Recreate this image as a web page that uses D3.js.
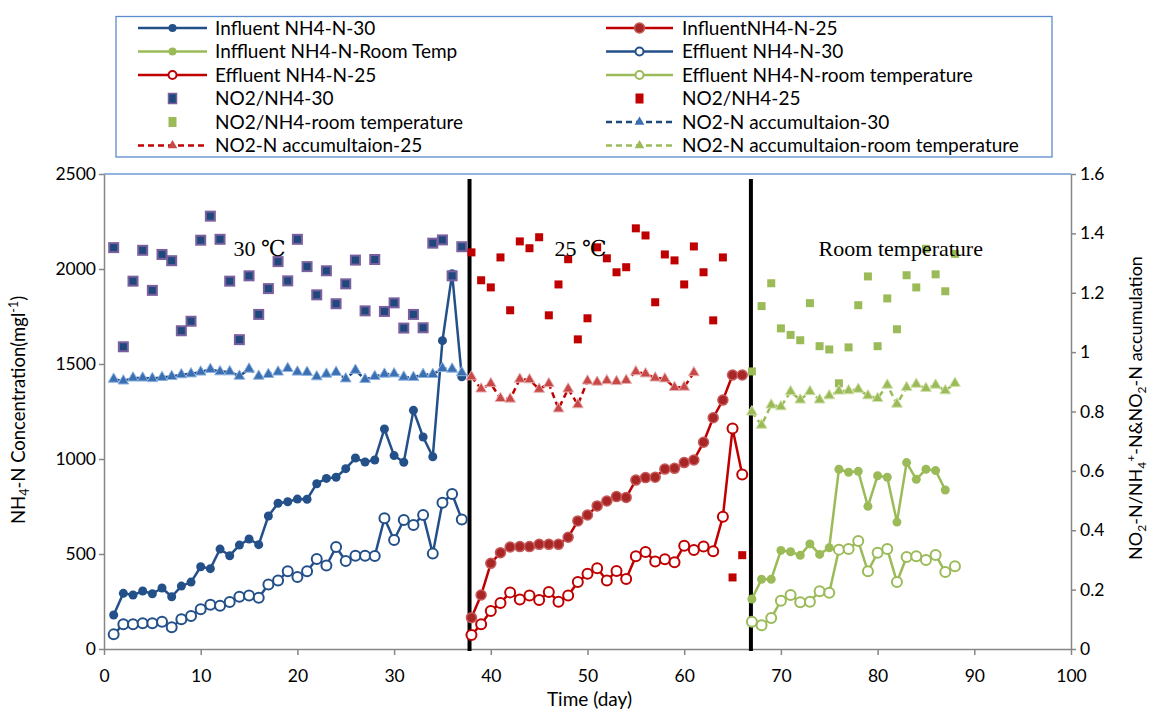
<!DOCTYPE html>
<html>
<head>
<meta charset="utf-8">
<script src="https://cdn.jsdelivr.net/npm/d3@7"></script>
<style>
  body { margin: 0; background: #fff; }
  svg { display: block; font-family: Lato, "Open Sans", sans-serif; }
</style>
</head>
<body>
<svg id="chart" width="1151" height="709"></svg>
<script>
// ---- Data: day numbers per operating phase ----
const days30 = [1,2,3,4,5,6,7,8,9,10,11,12,13,14,15,16,17,18,19,20,21,22,23,24,25,26,27,28,29,30,31,32,33,34,35,36,37];
const days25 = [38,39,40,41,42,43,44,45,46,47,48,49,50,51,52,53,54,55,56,57,58,59,60,61,62,63,64,65,66];
const days25Acc = [38,39,40,41,42,43,44,45,46,47,48,49,50,51,52,53,54,55,56,57,58,59,60,61];
const daysRT = [67,68,69,70,71,72,73,74,75,76,77,78,79,80,81,82,83,84,85,86,87,88];
const daysRTInf = [67,68,69,70,71,72,73,74,75,76,77,78,79,80,81,82,83,84,85,86,87];

// NH4-N concentrations (mg/l), left axis
const influent30 = [179,293,284,305,291,321,275,331,352,433,423,526,491,547,579,549,700,767,775,789,788,870,898,904,949,1005,984,995,1158,1018,983,1256,1116,1012,1623,1975,1433];
const effluent30 = [77,130,130,135,135,144,114,156,174,209,233,228,247,275,281,270,339,360,409,379,409,474,439,537,463,491,491,489,688,574,679,653,705,502,770,816,682];
const influent25 = [165,284,451,507,537,539,539,551,551,551,588,674,705,753,779,802,798,889,902,904,947,951,981,995,1088,1217,1310,1442,1442];
const effluent25 = [74,130,200,242,298,260,282,258,300,249,282,353,396,425,360,411,368,488,511,461,472,456,544,521,539,514,696,1160,919];
const influentRT = [263,367,367,519,512,493,553,498,533,946,930,935,751,912,904,668,981,893,946,939,837];
const effluentRT = [144,125,163,254,284,246,249,304,296,523,526,568,409,507,526,353,484,488,468,495,405,435];

// NO2-N/NH4-N ratios and NO2-N accumulation, right axis
const ratio30 = [1.352,1.018,1.239,1.343,1.208,1.329,1.308,1.072,1.104,1.377,1.458,1.380,1.239,1.042,1.257,1.127,1.214,1.305,1.240,1.380,1.288,1.193,1.274,1.163,1.230,1.310,1.139,1.312,1.137,1.166,1.081,1.127,1.082,1.367,1.378,1.257,1.355];
const accum30 = [0.909,0.903,0.913,0.913,0.911,0.915,0.918,0.924,0.927,0.933,0.942,0.934,0.934,0.919,0.943,0.919,0.925,0.933,0.945,0.933,0.932,0.917,0.926,0.932,0.910,0.939,0.908,0.918,0.926,0.927,0.916,0.915,0.925,0.925,0.945,0.943,0.931];
const ratio25 = [1.336,1.242,1.218,1.319,1.141,1.373,1.350,1.387,1.124,1.228,1.313,1.043,1.114,1.353,1.316,1.269,1.286,1.417,1.393,1.168,1.329,1.309,1.228,1.356,1.269,1.107,1.319,0.241,0.316];
const accum25 = [0.917,0.876,0.894,0.844,0.842,0.909,0.907,0.875,0.894,0.809,0.876,0.823,0.903,0.899,0.904,0.901,0.905,0.934,0.927,0.913,0.910,0.881,0.882,0.931];
const ratioRT = [0.935,1.155,1.232,1.080,1.058,1.040,1.165,1.020,1.009,0.895,1.016,1.158,1.255,1.020,1.181,1.077,1.259,1.218,1.348,1.262,1.205,1.331];
const accumRT = [0.799,0.754,0.822,0.816,0.867,0.839,0.867,0.839,0.853,0.869,0.870,0.875,0.853,0.844,0.889,0.825,0.881,0.892,0.878,0.889,0.870,0.895];

// Phase boundaries (day) and phase names
const phaseBreaks = [37.8, 66.9];
const phaseNames = ["30 \u2103", "25 \u2103", "Room temperature"];

// Axis ticks
const xTicks = [0,10,20,30,40,50,60,70,80,90,100];
const yLeftTicks = [0,500,1000,1500,2000,2500];
const yRightTicks = [0,0.2,0.4,0.6,0.8,1,1.2,1.4,1.6];

// Legend labels
const legendLabels = [
  "Influent NH4-N-30", "InfluentNH4-N-25",
  "Inffluent NH4-N-Room Temp", "Effluent NH4-N-30",
  "Effluent NH4-N-25", "Effluent NH4-N-room temperature",
  "NO2/NH4-30", "NO2/NH4-25",
  "NO2/NH4-room temperature", "NO2-N accumultaion-30",
  "NO2-N accumultaion-25", "NO2-N accumultaion-room temperature"
];

// ---- Palette ----
const BLUE = "#24508a", RED = "#c00000", GREEN = "#9bbb59";
const AXIS = "#868686";
const SANS = "Lato, 'Open Sans', sans-serif";
const SERIF = "'Liberation Serif', 'DejaVu Serif', serif";

const svg = d3.select("#chart");
const plot = { left: 104, right: 1071, top: 174, bottom: 649 };

const x = d3.scaleLinear().domain([0, 100]).range([plot.left, plot.right]);
const yL = d3.scaleLinear().domain([0, 2500]).range([plot.bottom, plot.top]);
const yR = d3.scaleLinear().domain([0, 1.6]).range([plot.bottom, plot.top]);

const zip = (days, vals) => days.map((d, i) => ({ day: d, v: vals[i] }));

// ---- Axes ----
const fontTick = 17.5;
const gL = svg.append("g").attr("transform", `translate(${plot.left},0)`)
  .call(d3.axisLeft(yL).tickValues(yLeftTicks).tickSize(5).tickSizeOuter(0).tickPadding(3).tickFormat(d3.format("d")));
const gR = svg.append("g").attr("transform", `translate(${plot.right},0)`)
  .call(d3.axisRight(yR).tickValues(yRightTicks).tickSize(5).tickSizeOuter(0).tickPadding(4).tickFormat(d => String(+d.toFixed(1))));
const gB = svg.append("g").attr("transform", `translate(0,${plot.bottom})`)
  .call(d3.axisBottom(x).tickValues(xTicks).tickSize(6).tickSizeOuter(0).tickPadding(15).tickFormat(d3.format("d")));
[gL, gR, gB].forEach(g => {
  g.attr("font-family", SANS).attr("font-size", fontTick);
  g.selectAll(".domain").attr("stroke", AXIS).attr("stroke-width", 1.5);
  g.selectAll(".tick line").attr("stroke", AXIS).attr("stroke-width", 1.5);
  g.selectAll(".tick text").attr("fill", "#000");
});
// top edge of the plot area
svg.append("line").attr("x1", plot.left).attr("x2", plot.right)
  .attr("y1", plot.top).attr("y2", plot.top).attr("stroke", "#6f9bd1").attr("stroke-width", 1.5);

// Axis titles
svg.append("text").attr("x", (plot.left + plot.right) / 2 + 2).attr("y", 706)
  .attr("text-anchor", "middle").attr("font-family", SANS).attr("font-size", 19).text("Time (day)");

const lt = svg.append("text").attr("transform", "translate(25,410) rotate(-90)")
  .attr("text-anchor", "middle").attr("font-family", SANS).attr("font-size", 18.5);
lt.append("tspan").text("NH");
lt.append("tspan").attr("font-size", 12.5).attr("dy", 4).text("4");
lt.append("tspan").attr("dy", -4).text("-N Concentration(mgl");
lt.append("tspan").attr("font-size", 12.5).attr("dy", -7).text("-1");
lt.append("tspan").attr("dy", 7).text(")");

const rt = svg.append("text").attr("transform", "translate(1142,408) rotate(-90)")
  .attr("text-anchor", "middle").attr("font-family", SANS).attr("font-size", 18);
rt.append("tspan").text("NO");
rt.append("tspan").attr("font-size", 12).attr("dy", 4).text("2");
rt.append("tspan").attr("dy", -4).text("-N/NH");
rt.append("tspan").attr("font-size", 12).attr("dy", 4).text("4");
rt.append("tspan").attr("font-size", 12).attr("dy", -11).text("+");
rt.append("tspan").attr("dy", 7).text("-N&NO");
rt.append("tspan").attr("font-size", 12).attr("dy", 4).text("2");
rt.append("tspan").attr("dy", -4).text("-N accumulation");

// ---- Phase dividers ----
svg.selectAll("line.phase").data(phaseBreaks).join("line")
  .attr("class", "phase")
  .attr("x1", d => x(d)).attr("x2", d => x(d))
  .attr("y1", plot.top + 5).attr("y2", plot.bottom + 2)
  .attr("stroke", "#000").attr("stroke-width", 4);

// ---- Marker helpers ----
const lineL = d3.line().x(d => x(d.day)).y(d => yL(d.v));
const lineR = d3.line().x(d => x(d.day)).y(d => yR(d.v));
const triPath = d3.symbol().type(d3.symbolTriangle).size(50)();

function drawSeriesLine(data, scaleLine, color, dashed) {
  svg.append("path").datum(data).attr("d", scaleLine)
    .attr("fill", "none").attr("stroke", color).attr("stroke-width", 2.5)
    .attr("stroke-dasharray", dashed ? "6,4" : null).attr("stroke-linejoin", "round");
}
function filledDots(data, yScale, fill, r, stroke) {
  svg.append("g").selectAll("circle").data(data).join("circle")
    .attr("cx", d => x(d.day)).attr("cy", d => yScale(d.v)).attr("r", r)
    .attr("fill", fill).attr("stroke", stroke || "none").attr("stroke-width", stroke ? 1.5 : 0);
}
function openDots(data, yScale, color) {
  svg.append("g").selectAll("circle").data(data).join("circle")
    .attr("cx", d => x(d.day)).attr("cy", d => yScale(d.v)).attr("r", 5)
    .attr("fill", "#fff").attr("stroke", color).attr("stroke-width", 2);
}
function squares(data, fill, size, stroke) {
  svg.append("g").selectAll("rect").data(data).join("rect")
    .attr("x", d => x(d.day) - size / 2).attr("y", d => yR(d.v) - size / 2)
    .attr("width", size).attr("height", size)
    .attr("fill", fill).attr("stroke", stroke || "none").attr("stroke-width", stroke ? 2 : 0);
}
function triangles(data, fill, stroke) {
  svg.append("g").selectAll("path").data(data).join("path")
    .attr("d", triPath)
    .attr("transform", d => `translate(${x(d.day)},${yR(d.v)})`)
    .attr("fill", fill).attr("stroke", stroke).attr("stroke-width", 1);
}

// ---- Series ----
// 30 °C phase
const inf30 = zip(days30, influent30), eff30 = zip(days30, effluent30);
drawSeriesLine(inf30, lineL, BLUE, false); filledDots(inf30, yL, BLUE, 4.5);
drawSeriesLine(eff30, lineL, BLUE, false); openDots(eff30, yL, BLUE);
// 25 °C phase
const inf25 = zip(days25, influent25), eff25 = zip(days25, effluent25);
drawSeriesLine(inf25, lineL, RED, false); filledDots(inf25, yL, "#a82626", 5, "#c65a5a");
drawSeriesLine(eff25, lineL, RED, false); openDots(eff25, yL, RED);
// room temperature phase
const infRT = zip(daysRTInf, influentRT), effRT = zip(daysRT, effluentRT);
drawSeriesLine(infRT, lineL, GREEN, false); filledDots(infRT, yL, GREEN, 4.5);
drawSeriesLine(effRT, lineL, GREEN, false); openDots(effRT, yL, GREEN);

// NO2-N/NH4-N ratio squares
squares(zip(days30, ratio30), "#1f497d", 9, "#7a609e");
squares(zip(days25, ratio25), RED, 8);
squares(zip(daysRT, ratioRT), GREEN, 8);

// NO2-N accumulation, dashed with triangles
const acc30 = zip(days30, accum30), acc25 = zip(days25Acc, accum25), accRT = zip(daysRT, accumRT);
drawSeriesLine(acc30, lineR, "#1f497d", true); triangles(acc30, "#3b6fb2", "#8db3e2");
drawSeriesLine(acc25, lineR, RED, true); triangles(acc25, "#c84848", "#e6b0b0");
drawSeriesLine(accRT, lineR, GREEN, true); triangles(accRT, "#9bbb59", "#cfe0a8");

// Phase names, on top of the markers (anchored at a day and a left-axis level)
const phaseAnchorDays = [13.4, 46.6, 73.9];
svg.selectAll("text.phase").data(phaseNames).join("text")
  .attr("class", "phase")
  .attr("x", (d, i) => x(phaseAnchorDays[i])).attr("y", yL(2070))
  .attr("font-family", SERIF)
  .attr("font-size", 22).text(d => d);

// ---- Legend ----
const lg = svg.append("g");
lg.append("rect").attr("x", 116).attr("y", 16.5).attr("width", 936).attr("height", 140.5)
  .attr("fill", "#fff").attr("stroke", "#5b8ccb").attr("stroke-width", 1.3);

const legendKinds = [
  { c: BLUE, m: "dot" }, { c: RED, m: "dot25" },
  { c: GREEN, m: "dot" }, { c: BLUE, m: "open" },
  { c: RED, m: "open" }, { c: GREEN, m: "open" },
  { c: "#1f497d", m: "sq30" }, { c: RED, m: "sq" },
  { c: GREEN, m: "sq" }, { c: "#1f497d", m: "tri", f: "#3b6fb2" },
  { c: RED, m: "tri", f: "#c84848" }, { c: GREEN, m: "tri", f: "#9bbb59" }
];
const colX = [{ l: 138, r: 207, t: 215 }, { l: 606, r: 673, t: 682 }];
legendLabels.forEach((label, i) => {
  const col = colX[i % 2];
  const row = Math.floor(i / 2);
  const cy = 28 + row * 23.5;
  const k = legendKinds[i];
  const cx = (col.l + col.r) / 2;
  const g = lg.append("g");
  if (k.m === "dot" || k.m === "dot25" || k.m === "open") {
    g.append("line").attr("x1", col.l).attr("x2", col.r).attr("y1", cy).attr("y2", cy)
      .attr("stroke", k.c).attr("stroke-width", 2.5);
  }
  if (k.m === "tri") {
    g.append("line").attr("x1", col.l).attr("x2", col.r).attr("y1", cy).attr("y2", cy)
      .attr("stroke", k.c).attr("stroke-width", 2.5).attr("stroke-dasharray", "6,4");
    g.append("path").attr("d", d3.symbol().type(d3.symbolTriangle).size(40)())
      .attr("transform", `translate(${cx},${cy})`).attr("fill", k.f);
  }
  if (k.m === "dot") g.append("circle").attr("cx", cx).attr("cy", cy).attr("r", 4).attr("fill", k.c);
  if (k.m === "dot25") g.append("circle").attr("cx", cx).attr("cy", cy).attr("r", 5)
    .attr("fill", "#a82626").attr("stroke", "#c65a5a").attr("stroke-width", 1.5);
  if (k.m === "open") g.append("circle").attr("cx", cx).attr("cy", cy).attr("r", 4)
    .attr("fill", "#fff").attr("stroke", k.c).attr("stroke-width", 2);
  if (k.m === "sq30") g.append("rect").attr("x", cx - 4).attr("y", cy - 5).attr("width", 8).attr("height", 10)
    .attr("fill", "#1f497d").attr("stroke", "#7a609e").attr("stroke-width", 1.5);
  if (k.m === "sq") g.append("rect").attr("x", cx - 4).attr("y", cy - 5).attr("width", 8).attr("height", 10)
    .attr("fill", k.c);
  g.append("text").attr("x", col.t).attr("y", cy).attr("dy", "0.35em")
    .attr("font-family", SANS).attr("font-size", 19).text(label);
});
</script>
</body>
</html>
